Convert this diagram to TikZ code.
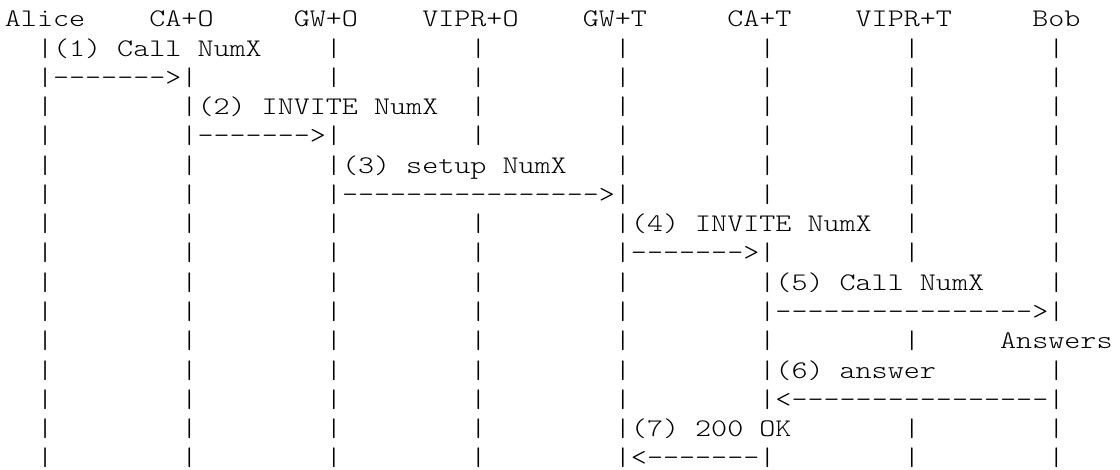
\documentclass[tikz,border=0pt]{standalone}
\usepackage{fontspec}
\setmonofont{lmmonolt10-regular.otf}[FakeStretch=1.207]
\newcommand\G{~~~~~~~~|}
\tikzset{asciirow/.style={anchor=base west, inner sep=0pt, outer sep=0pt, text=black,
  font=\ttfamily\fontsize{19pt}{22pt}\selectfont}}
\begin{document}
\begin{tikzpicture}[x=0.75pt,y=-0.75pt]
\useasboundingbox (0,0) rectangle (1120,470);
\def\xz{4.9}
\node[asciirow] (r0)  at (\xz,27.00)  {Alice~~~~CA+O~~~~~GW+O~~~~VIPR+O~~~~GW+T~~~~~CA+T~~~~VIPR+T~~~~~Bob};
\node[asciirow] (r1)  at (\xz,56.25)  {~~|(1)~Call~NumX~~~~|\G\G\G\G\G};
\node[asciirow] (r2)  at (\xz,85.50)  {~~|------->|\G\G\G\G\G\G};
\node[asciirow] (r3)  at (\xz,114.75) {~~|\G(2)~INVITE~NumX~~|\G\G\G\G};
\node[asciirow] (r4)  at (\xz,144.00) {~~|\G------->|\G\G\G\G\G};
\node[asciirow] (r5)  at (\xz,173.25) {~~|\G\G(3)~setup~NumX~~~|\G\G\G};
\node[asciirow] (r6)  at (\xz,202.50) {~~|\G\G---------------->|\G\G\G};
\node[asciirow] (r7)  at (\xz,231.75) {~~|\G\G\G\G(4)~INVITE~NumX~~|\G};
\node[asciirow] (r8)  at (\xz,261.00) {~~|\G\G\G\G------->|\G\G};
\node[asciirow] (r9)  at (\xz,290.25) {~~|\G\G\G\G\G(5)~Call~NumX~~~~|};
\node[asciirow] (r10) at (\xz,319.50) {~~|\G\G\G\G\G---------------->|};
\node[asciirow] (r11) at (\xz,348.75) {~~|\G\G\G\G\G\G~~~~~Answers};
\node[asciirow] (r12) at (\xz,378.00) {~~|\G\G\G\G\G(6)~answer~~~~~~~|};
\node[asciirow] (r13) at (\xz,407.25) {~~|\G\G\G\G\G<----------------|};
\node[asciirow] (r14) at (\xz,436.50) {~~|\G\G\G\G(7)~200~OK~~~~~~~|\G};
\node[asciirow] (r15) at (\xz,465.75) {~~|\G\G\G\G<-------|\G\G};
\end{tikzpicture}
\end{document}
